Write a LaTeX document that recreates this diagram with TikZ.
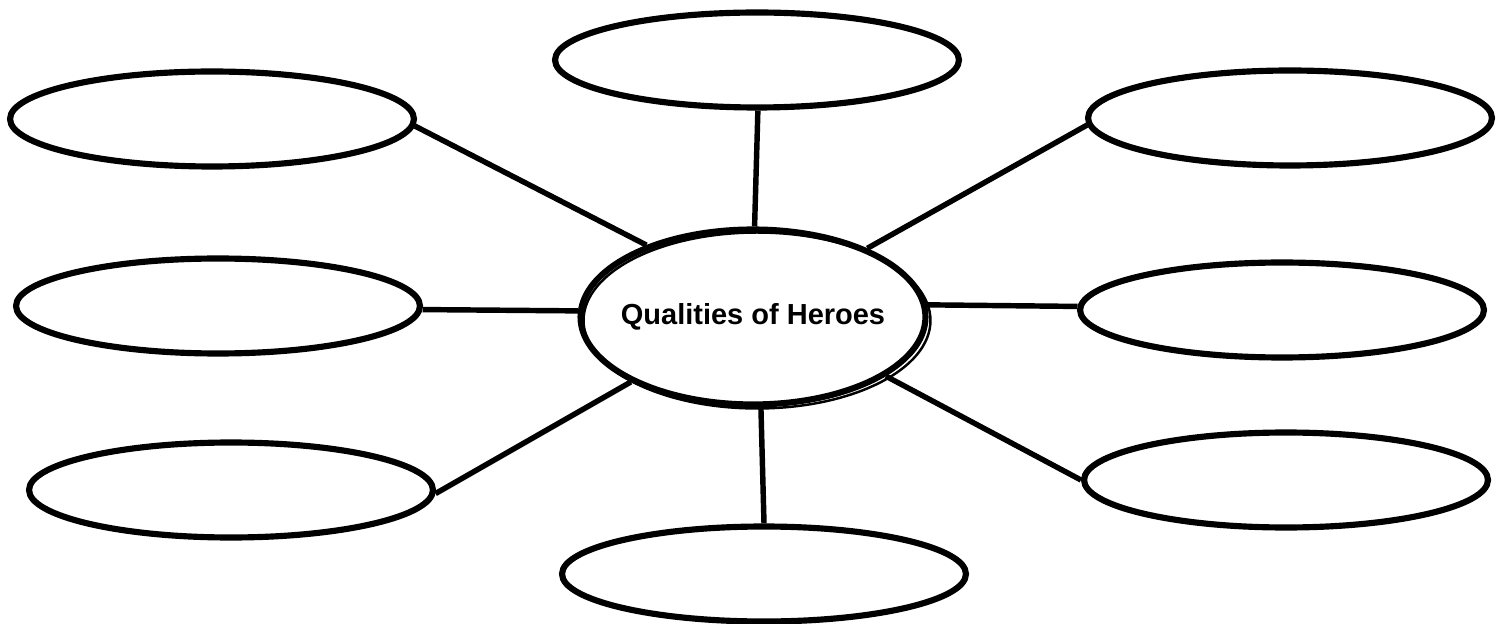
\documentclass[tikz,border=0pt]{standalone}
\usepackage{fontspec}
\newfontfamily\arialfont{Liberation Sans}
\usetikzlibrary{shapes.geometric}
\begin{document}
\begin{tikzpicture}[x=0.02cm,y=-0.02cm,
  leaf/.style={ellipse,draw,line width=3.5pt,inner sep=0pt,minimum width=8.08cm,minimum height=1.9cm},
  hub/.style={ellipse,draw,line width=3.5pt,inner sep=0pt,minimum width=6.9cm,minimum height=3.5cm,
    font=\arialfont\bfseries\fontsize{16.5}{19}\selectfont},
  link/.style={line width=3.1pt}]
\useasboundingbox (0,0) rectangle (1506,624);
% offset outline of the hub
\draw[line width=1.4pt] (757,320.5) ellipse [x radius=3.47cm, y radius=1.76cm];
\node[hub] (c) at (753,317) {\makebox[0pt]{Qualities of Heroes}};
\node[leaf] (tl) at (212,119) {};
\node[leaf] (t)  at (757,60) {};
\node[leaf] (tr) at (1290,118) {};
\node[leaf] (ml) at (218,306) {};
\node[leaf] (mr) at (1282,310) {};
\node[leaf] (bl) at (231,490) {};
\node[leaf] (br) at (1286,480) {};
\node[leaf] (b)  at (764,574) {};
\draw[link] (tl.-2) -- (c.146);
\draw[link] (t.-89) -- (c.89);
\draw[link] (tr.182) -- (c.31);
\draw[link] (ml.-1) -- (c.178);
\draw[link] (mr.179) -- (c.4);
\draw[link] (bl.-1) -- (c.208);
\draw[link] (b.north) -- (c.-85);
\draw[link] (br.west) -- (c.-24);
\end{tikzpicture}
\end{document}
